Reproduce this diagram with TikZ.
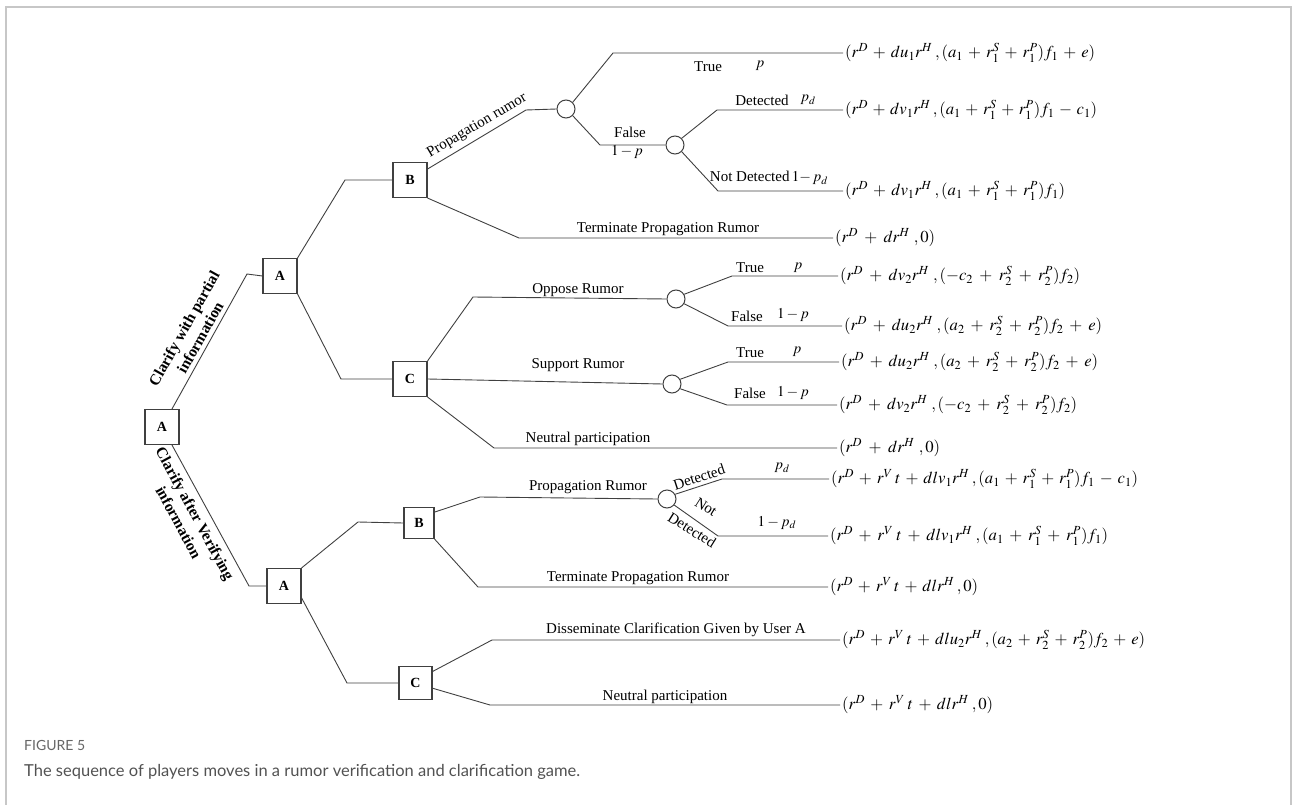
\documentclass[tikz,border=0pt]{standalone}
\usepackage{mathptmx}
\usepackage{fontspec}
\setmainfont{Liberation Serif}
\newfontfamily\capfont{Lato}
\newcommand\gl{\hskip0pt plus1fil minus1.5pt\relax}
\newcommand\pf[2]{\hbox to #1pt{$#2$}}
\begin{document}
\begin{tikzpicture}[x=1pt,y=-1pt,
  dbox/.style={draw=black!75, line width=1.1pt, minimum width=34pt, minimum height=35pt, inner sep=0pt, fill=white, font=\bfseries\fontsize{14}{16}\selectfont},
  chance/.style={circle, draw=black!75, line width=1pt, minimum size=18pt, inner sep=0pt, fill=white},
  edge/.style={draw=black!75, line width=0.9pt},
  lbl/.style={font=\fontsize{15}{17}\selectfont, inner sep=0pt},
  pay/.style={anchor=west, inner sep=2pt, font=\fontsize{16.7}{19}\selectfont},
  rot/.style={font=\bfseries\fontsize{15.5}{18.5}\selectfont, align=center, inner sep=0pt},
  frame/.style={draw=black!22, line width=1.5pt}]
\useasboundingbox (0,0) rectangle (1292,805);
\draw[frame] (6,805) -- (6,7) -- (1291,7) -- (1291,805);

% decision nodes
\node[dbox] (A0) at (162,427) {A};
\node[dbox] (A1) at (280,276) {A};
\node[dbox] (B1) at (410,180) {B};
\node[dbox] (C1) at (410,379) {C};
\node[dbox] (A2) at (284,586) {A};
\node[dbox, minimum width=30pt, minimum height=31pt] (B2) at (419,523) {B};
\node[dbox, minimum width=33pt, minimum height=33pt] (C2) at (415.5,683) {C};

% chance nodes
\node[chance] (n1) at (566,109) {};
\node[chance] (n2) at (675,145) {};
\node[chance] (n3) at (676,299) {};
\node[chance] (n4) at (672,384) {};
\node[chance] (n5) at (667,499) {};

% payoffs
\node[pay] (p1) at (843,53) {\pf{250}{(r^D\gl+\gl du_1r^H\gl,(a_1\gl+\gl r_1^S\gl+\gl r_1^P)f_1\gl+\gl e)}};
\node[pay] (p2) at (843,110) {\pf{252}{(r^D\gl+\gl dv_1r^H\gl,(a_1\gl+\gl r_1^S\gl+\gl r_1^P)f_1\gl-\gl c_1)}};
\node[pay] (p3) at (843,191) {\pf{220}{(r^D\gl+\gl dv_1r^H\gl,(a_1\gl+\gl r_1^S\gl+\gl r_1^P)f_1)}};
\node[pay] (p4) at (833,238) {\pf{100}{(r^D\gl+\gl dr^H\gl,0)}};
\node[pay] (p5) at (838,276) {\pf{240}{(r^D\gl+\gl dv_2r^H\gl,(-c_2\gl+\gl r_2^S\gl+\gl r_2^P)f_2)}};
\node[pay] (p6) at (842,326) {\pf{258}{(r^D\gl+\gl du_2r^H\gl,(a_2\gl+\gl r_2^S\gl+\gl r_2^P)f_2\gl+\gl e)}};
\node[pay] (p7) at (839,362) {\pf{257}{(r^D\gl+\gl du_2r^H\gl,(a_2\gl+\gl r_2^S\gl+\gl r_2^P)f_2\gl+\gl e)}};
\node[pay] (p8) at (837,405) {\pf{238}{(r^D\gl+\gl dv_2r^H\gl,(-c_2\gl+\gl r_2^S\gl+\gl r_2^P)f_2)}};
\node[pay] (p9) at (837,448) {\pf{101}{(r^D\gl+\gl dr^H\gl,0)}};
\node[pay] (p10) at (829,479) {\pf{307}{(r^D\gl+\gl r^V\gl t\gl+\gl dlv_1r^H\gl,(a_1\gl+\gl r_1^S\gl+\gl r_1^P)f_1\gl-\gl c_1)}};
\node[pay] (p11) at (828,536) {\pf{278}{(r^D\gl+\gl r^V\gl t\gl+\gl dlv_1r^H\gl,(a_1\gl+\gl r_1^S\gl+\gl r_1^P)f_1)}};
\node[pay] (p12) at (828,587) {\pf{148}{(r^D\gl+\gl r^V\gl t\gl+\gl dlr^H\gl,0)}};
\node[pay] (p13) at (840,640) {\pf{303}{(r^D\gl+\gl r^V\gl t\gl+\gl dlu_2r^H\gl,(a_2\gl+\gl r_2^S\gl+\gl r_2^P)f_2\gl+\gl e)}};
\node[pay] (p14) at (840,705) {\pf{151}{(r^D\gl+\gl r^V\gl t\gl+\gl dlr^H\gl,0)}};

% edges
\draw[edge] (A0.61) -- (247,274) -- (A1.west);
\draw[edge] (A0.-61) -- (249,586) -- (A2.west);
\draw[edge] (A1.north east) -- (345,180) -- (B1.west);
\draw[edge] (A1.south east) -- (341,379) -- (C1.west);
\draw[edge] (B1.32) -- (526,110) -- (n1.west);
\draw[edge] (n1.45) -- (613,53) -- (p1.west);
\draw[edge] (n1.-45) -- (600,145) -- (n2.west);
\draw[edge] (n2.45) -- (717,110) -- (p2.west);
\draw[edge] (n2.-45) -- (718,191) -- (p3.west);
\draw[edge] (B1.south east) -- (519,238) -- (p4.west);
\draw[edge] (C1.north east) -- (473,297) -- (n3.west);
\draw[edge] (n3.30) -- (732,276) -- (p5.west);
\draw[edge] (n3.-30) -- (728,326) -- (p6.west);
\draw[edge] (C1.east) -- (n4.west);
\draw[edge] (n4.30) -- (728,362) -- (p7.west);
\draw[edge] (n4.-30) -- (727,405) -- (p8.west);
\draw[edge] (C1.south east) -- (494,448) -- (p9.west);
\draw[edge] (A2.north east) -- (358,522) -- (B2.west);
\draw[edge] (A2.-34) -- (347,683) -- (C2.west);
\draw[edge] (B2.35) -- (480,497) -- (n5.west);
\draw[edge] (n5.30) -- (722,479) -- (p10.west);
\draw[edge] (n5.-40) -- (718,536) -- (p11.west);
\draw[edge] (B2.south east) -- (478,587) -- (p12.west);
\draw[edge] (C2.34) -- (492,640) -- (p13.west);
\draw[edge] (C2.-17) -- (490,705) -- (p14.west);

% edge labels
\node[rot, rotate=60.8] (t1) at (192,333) {Clarify with partial\\information};
\node[rot, rotate=-61.5] (t2) at (187,518) {Clarify after Verifying\\information};
\node[lbl, rotate=30.5] (l1) at (477,126) {Propagation rumor};
\node[lbl] (l2) at (708,67) {True};
\node[lbl] (l3) at (760,66) {$p$};
\node[lbl] (l4) at (630,132) {False};
\node[lbl] (l5) at (627,152) {$1-p$};
\node[lbl] (l6) at (762,100) {Detected};
\node[lbl] (l7) at (808,100) {$p_d$};
\node[lbl] (l8) at (769,178) {Not Detected\,$1{-}\,p_d$};
\node[lbl] (l10) at (668,229) {Terminate Propagation Rumor};
\node[lbl] (l11) at (578,290) {Oppose Rumor};
\node[lbl] (l12) at (750,268) {True};
\node[lbl] (l13) at (798,268) {$p$};
\node[lbl] (l14) at (747,316) {False};
\node[lbl] (l15) at (793,315) {$1-p$};
\node[lbl] (l16) at (578,365) {Support Rumor};
\node[lbl] (l17) at (750,353) {True};
\node[lbl] (l18) at (797,352) {$p$};
\node[lbl] (l19) at (750,393) {False};
\node[lbl] (l20) at (793,393) {$1-p$};
\node[lbl] (l21) at (588,439) {Neutral participation};
\node[lbl] (l22) at (588,487) {Propagation Rumor};
\node[lbl, rotate=18] (l23) at (699,477) {Detected};
\node[lbl] (l24) at (782,468) {$p_d$};
\node[lbl, rotate=-32] (l25) at (706,507) {Not};
\node[lbl, rotate=-32] (l26) at (692,530) {Detected};
\node[lbl] (l27) at (777,523) {$1-p_d$};
\node[lbl] (l28) at (638,578) {Terminate Propagation Rumor};
\node[lbl] (l29) at (676,630) {Disseminate Clarification Given by User A};
\node[lbl] (l30) at (665,697) {Neutral participation};

% caption
\node[anchor=west, inner sep=0pt, text=black!60, font=\capfont\fontsize{14}{16}\selectfont] (fig) at (24,745) {FIGURE 5};
\node[anchor=west, inner sep=0pt, text=black!68, font=\capfont\fontsize{16.5}{19}\selectfont] (cap) at (24,772) {The sequence of players moves in a rumor verification and clarification game.};
\end{tikzpicture}
\end{document}
